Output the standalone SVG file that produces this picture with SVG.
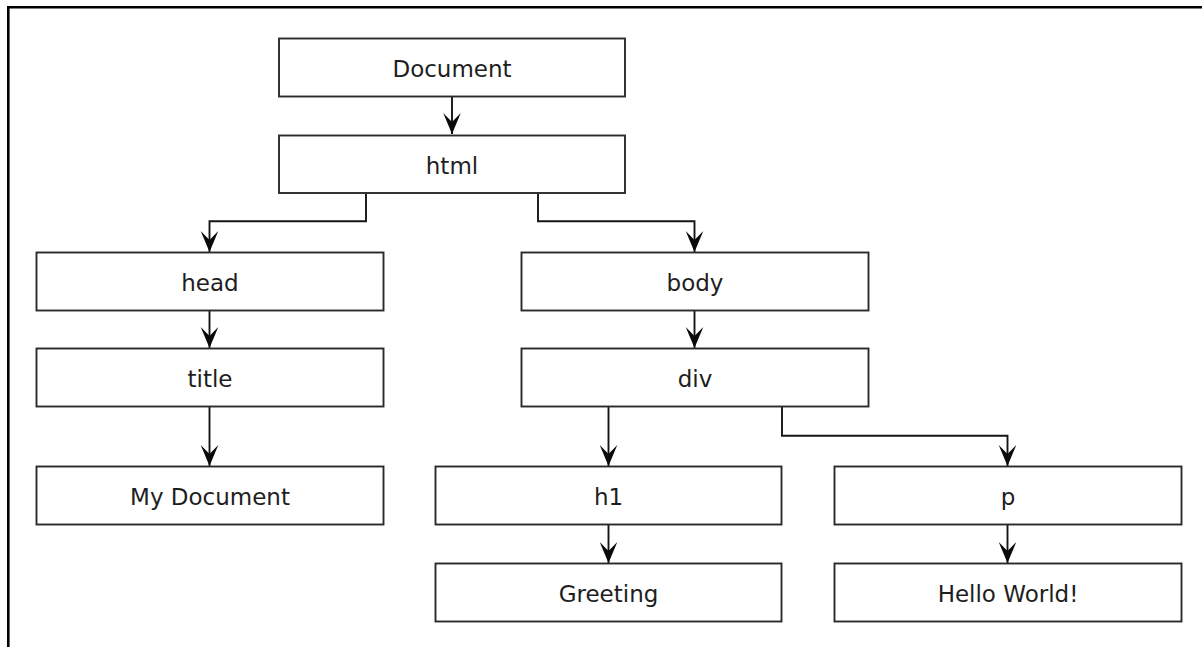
<svg xmlns="http://www.w3.org/2000/svg" width="1202" height="647" viewBox="0 0 1202 647">
  <style>
    .box { fill: #ffffff; stroke: #2a2a2a; stroke-width: 1.9; }
    .lbl { font-family: "DejaVu Sans", "Liberation Sans", sans-serif; font-size: 23px; fill: #1e1e1e; text-anchor: middle; }
    .edge { fill: none; stroke: #151515; stroke-width: 1.9; }
    .frame { stroke: #000000; stroke-width: 2.6; fill: none; }
  </style>
  <defs>
    <marker id="arrow" markerUnits="userSpaceOnUse" markerWidth="22" markerHeight="20" viewBox="0 0 22 20" refX="21" refY="10" orient="auto" overflow="visible">
      <path d="M0,1.2 L21,10 L0,18.8 L9,10 Z" fill="#0a0a0a"/>
    </marker>
  </defs>
  <rect width="1202" height="647" fill="#ffffff"/>
  <g id="frame">
    <path class="frame" d="M8.3,647 L8.3,7.3 L1202,7.3"/>
  </g>
  <g id="connectors">
    <path class="edge" d="M452,96.5 L452,134" marker-end="url(#arrow)"/>
    <path class="edge" d="M366,193 L366,221.3 L209.5,221.3 L209.5,252" marker-end="url(#arrow)"/>
    <path class="edge" d="M538,193 L538,221.3 L694.5,221.3 L694.5,252" marker-end="url(#arrow)"/>
    <path class="edge" d="M209.5,311 L209.5,348" marker-end="url(#arrow)"/>
    <path class="edge" d="M209.5,407 L209.5,466" marker-end="url(#arrow)"/>
    <path class="edge" d="M694.5,311 L694.5,348" marker-end="url(#arrow)"/>
    <path class="edge" d="M608.5,407 L608.5,466" marker-end="url(#arrow)"/>
    <path class="edge" d="M782,407 L782,435.8 L1007.5,435.8 L1007.5,466" marker-end="url(#arrow)"/>
    <path class="edge" d="M608.5,525 L608.5,563" marker-end="url(#arrow)"/>
    <path class="edge" d="M1007.5,525 L1007.5,563" marker-end="url(#arrow)"/>
  </g>
  <g id="node-document">
    <rect class="box" x="279" y="38.5" width="346" height="58"/>
    <text class="lbl" x="452" y="76.5">Document</text>
  </g>
  <g id="node-html">
    <rect class="box" x="279" y="135.5" width="346" height="57.5"/>
    <text class="lbl" x="452" y="173.5">html</text>
  </g>
  <g id="node-head">
    <rect class="box" x="36.5" y="252.5" width="347" height="58"/>
    <text class="lbl" x="210" y="290.5">head</text>
  </g>
  <g id="node-title">
    <rect class="box" x="36.5" y="348.5" width="347" height="58"/>
    <text class="lbl" x="210" y="386.5">title</text>
  </g>
  <g id="node-mydocument">
    <rect class="box" x="36.5" y="466.5" width="347" height="58"/>
    <text class="lbl" x="210" y="504.5">My Document</text>
  </g>
  <g id="node-body">
    <rect class="box" x="521.5" y="252.5" width="347" height="58"/>
    <text class="lbl" x="695" y="290.5">body</text>
  </g>
  <g id="node-div">
    <rect class="box" x="521.5" y="348.5" width="347" height="58"/>
    <text class="lbl" x="695" y="386.5">div</text>
  </g>
  <g id="node-h1">
    <rect class="box" x="435.5" y="466.5" width="346" height="58"/>
    <text class="lbl" x="608.5" y="504.5">h1</text>
  </g>
  <g id="node-greeting">
    <rect class="box" x="435.5" y="563.5" width="346" height="58"/>
    <text class="lbl" x="608.5" y="601.5">Greeting</text>
  </g>
  <g id="node-p">
    <rect class="box" x="834.5" y="466.5" width="347" height="58"/>
    <text class="lbl" x="1008" y="504.5">p</text>
  </g>
  <g id="node-helloworld">
    <rect class="box" x="834.5" y="563.5" width="347" height="58"/>
    <text class="lbl" x="1008" y="601.5">Hello World!</text>
  </g>
</svg>
